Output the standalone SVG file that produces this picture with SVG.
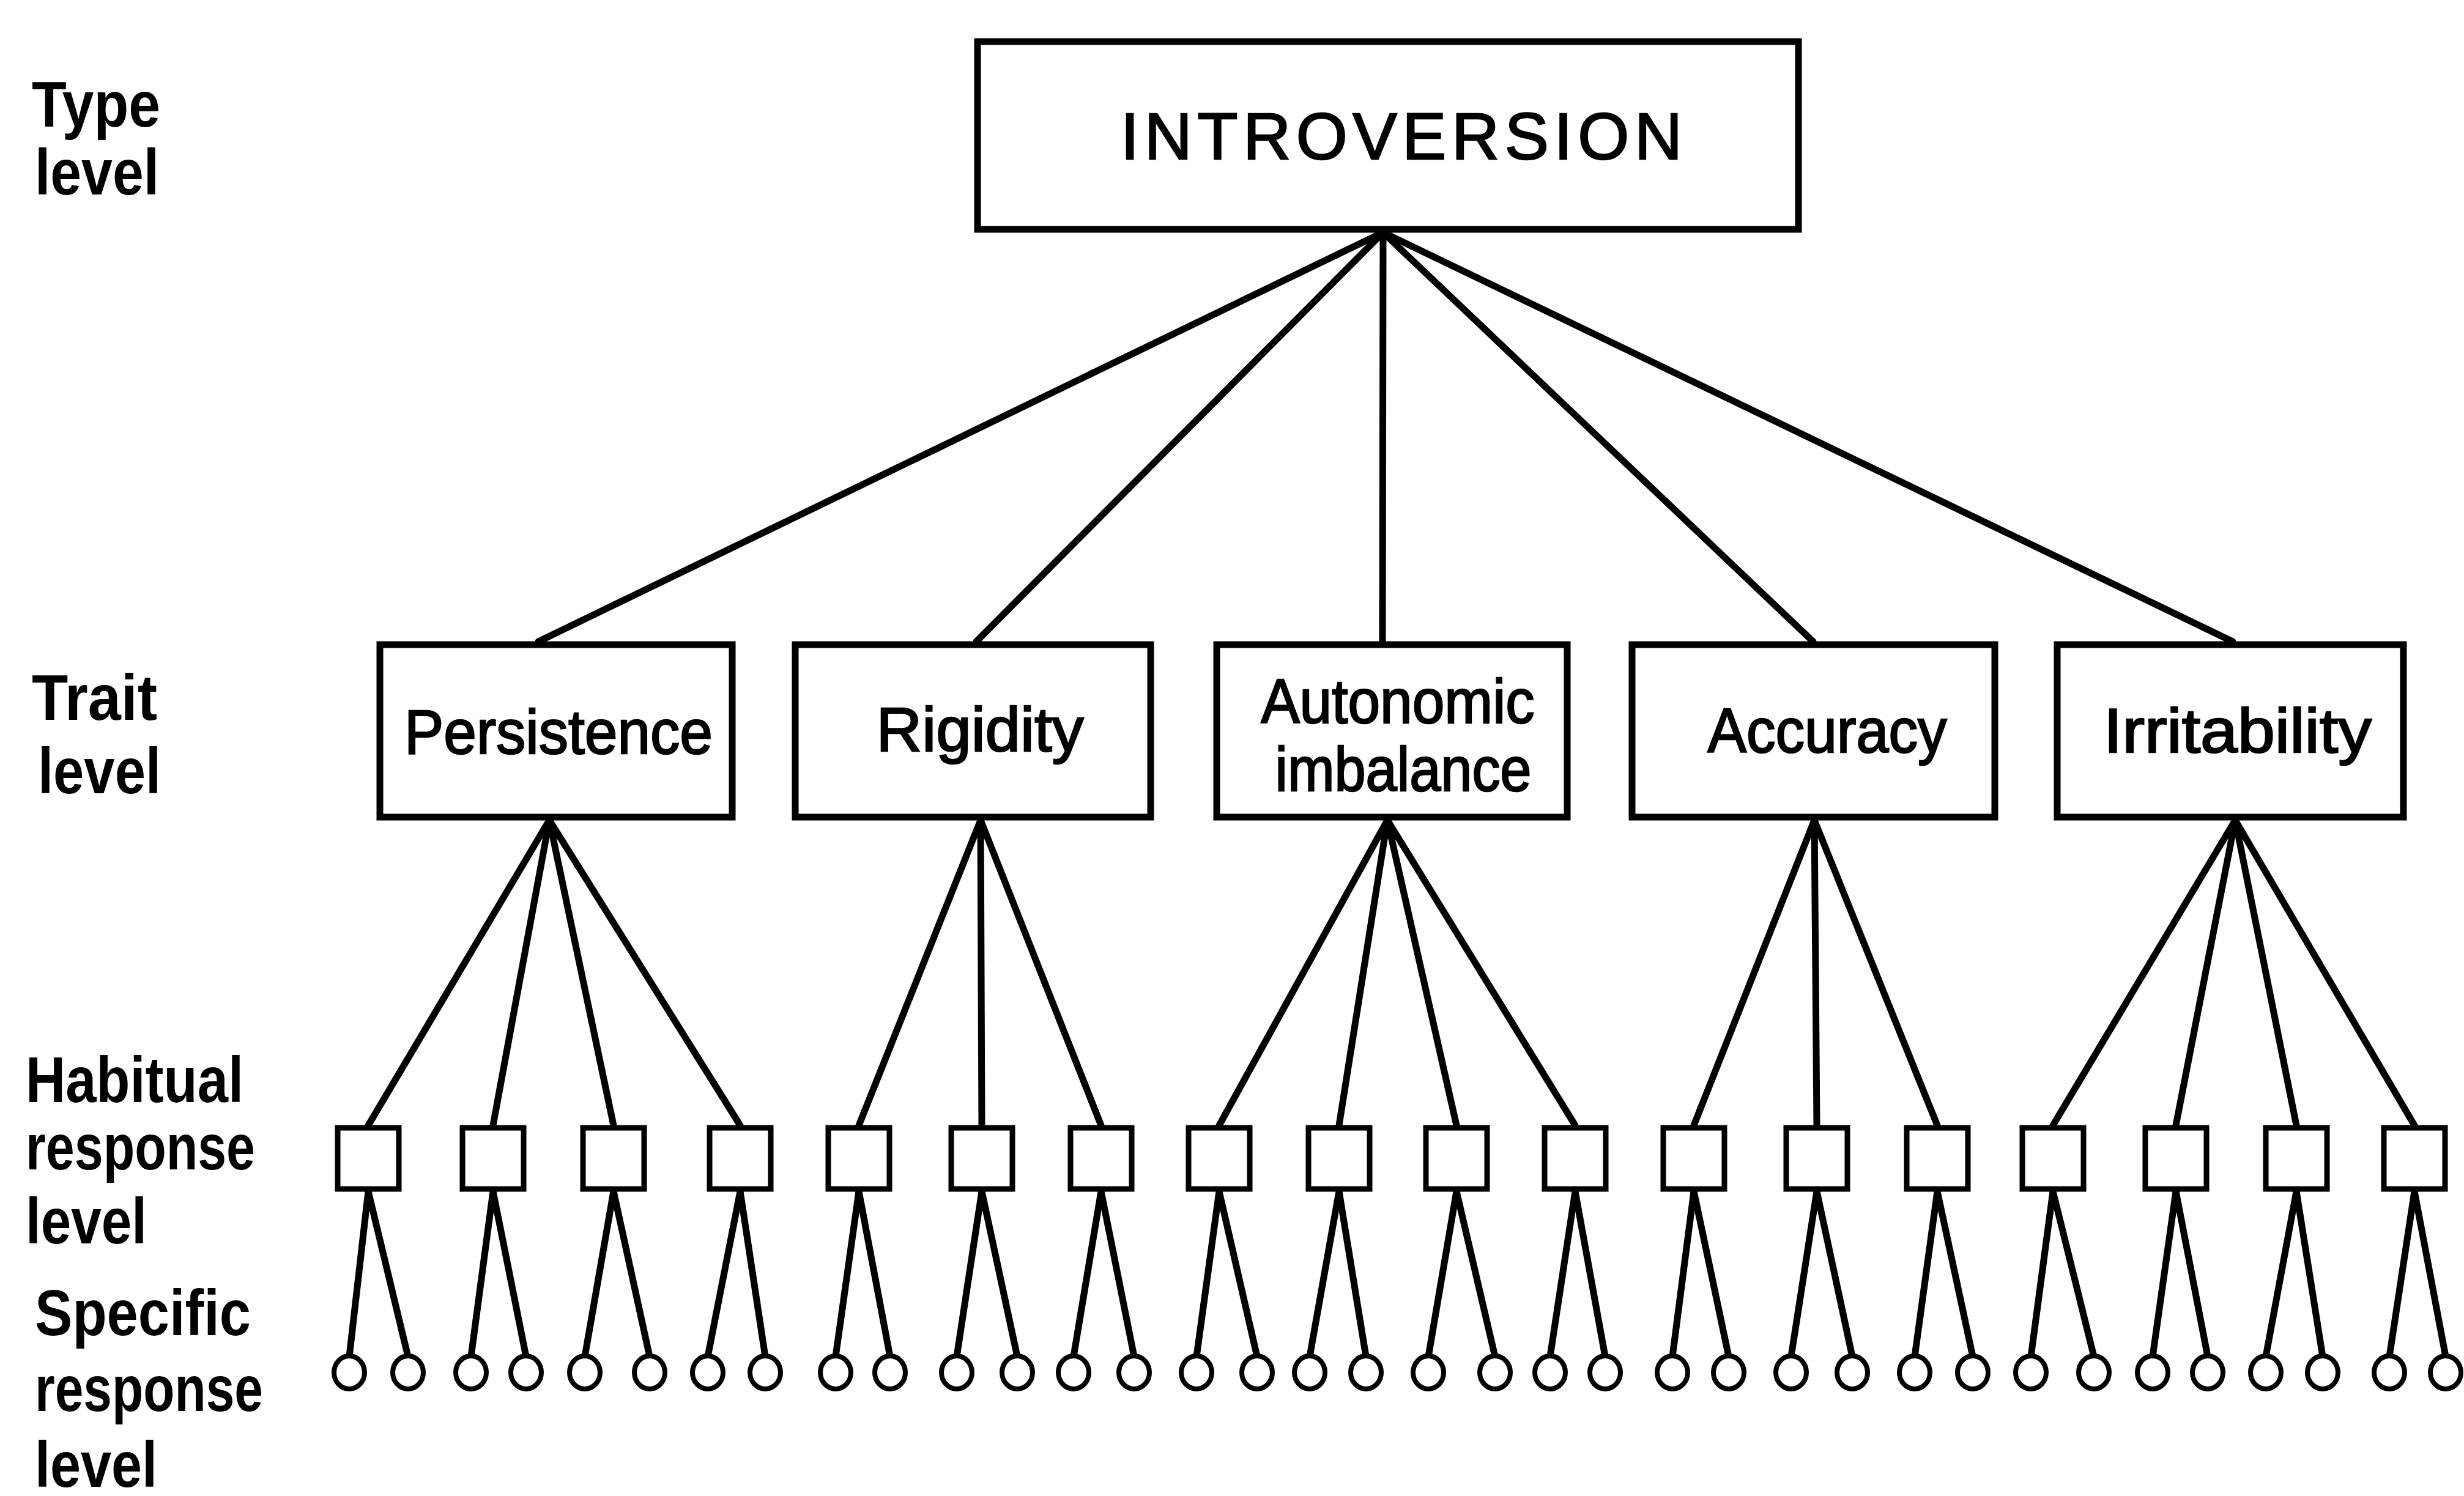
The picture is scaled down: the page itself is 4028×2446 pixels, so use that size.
<svg xmlns="http://www.w3.org/2000/svg" width="4028" height="2446" viewBox="0 0 4028 2446">
<style>
.bg{fill:#fff}
.box{fill:#fff;stroke:#000;stroke-width:11}
.hbox{fill:#fff;stroke:#000;stroke-width:9}
.circ{fill:#fff;stroke:#000;stroke-width:8}
.edge{stroke:#000;stroke-width:11;fill:none;stroke-linecap:round}
.lbl{font-family:"Liberation Sans",Arial,sans-serif;font-weight:bold;font-size:106px;fill:#000}
.nt{font-family:"Liberation Sans",Arial,sans-serif;font-size:102px;fill:#000;stroke:#000;stroke-width:2.5;text-anchor:middle}
.big{font-family:"Liberation Sans",Arial,sans-serif;font-size:108px;fill:#000;stroke:#000;stroke-width:2.5}
</style>
<rect class="bg" x="0" y="0" width="4028" height="2446"/>
<g id="level-labels">
<text class="lbl" x="52" y="207" textLength="210" lengthAdjust="spacingAndGlyphs">Type</text>
<text class="lbl" x="57" y="318" textLength="203" lengthAdjust="spacingAndGlyphs">level</text>
<text class="lbl" x="52" y="1177" textLength="205" lengthAdjust="spacingAndGlyphs">Trait</text>
<text class="lbl" x="62" y="1297" textLength="201" lengthAdjust="spacingAndGlyphs">level</text>
<text class="lbl" x="42" y="1802" textLength="356" lengthAdjust="spacingAndGlyphs">Habitual</text>
<text class="lbl" x="42" y="1912" textLength="375" lengthAdjust="spacingAndGlyphs">response</text>
<text class="lbl" x="42" y="2033" textLength="198" lengthAdjust="spacingAndGlyphs">level</text>
<text class="lbl" x="57" y="2183" textLength="353" lengthAdjust="spacingAndGlyphs">Specific</text>
<text class="lbl" x="57" y="2307" textLength="373" lengthAdjust="spacingAndGlyphs">response</text>
<text class="lbl" x="57" y="2431" textLength="200" lengthAdjust="spacingAndGlyphs">level</text>
</g>
<g id="connectors">
<line class="edge" x1="2261" y1="380" x2="880" y2="1049"/>
<line class="edge" x1="2261" y1="380" x2="1596" y2="1049"/>
<line class="edge" x1="2261" y1="380" x2="2260" y2="1049"/>
<line class="edge" x1="2261" y1="380" x2="2964" y2="1049"/>
<line class="edge" x1="2261" y1="380" x2="3650" y2="1049"/>
<line class="edge" x1="898" y1="1341" x2="602" y2="1840"/>
<line class="edge" x1="898" y1="1341" x2="806" y2="1840"/>
<line class="edge" x1="898" y1="1341" x2="1003" y2="1840"/>
<line class="edge" x1="898" y1="1341" x2="1210" y2="1840"/>
<line class="edge" x1="1603" y1="1341" x2="1404" y2="1840"/>
<line class="edge" x1="1603" y1="1341" x2="1605" y2="1840"/>
<line class="edge" x1="1603" y1="1341" x2="1800" y2="1840"/>
<line class="edge" x1="2268" y1="1341" x2="1993" y2="1840"/>
<line class="edge" x1="2268" y1="1341" x2="2189" y2="1840"/>
<line class="edge" x1="2268" y1="1341" x2="2381" y2="1840"/>
<line class="edge" x1="2268" y1="1341" x2="2575" y2="1840"/>
<line class="edge" x1="2966" y1="1341" x2="2769" y2="1840"/>
<line class="edge" x1="2966" y1="1341" x2="2970" y2="1840"/>
<line class="edge" x1="2966" y1="1341" x2="3167" y2="1840"/>
<line class="edge" x1="3654" y1="1341" x2="3356" y2="1840"/>
<line class="edge" x1="3654" y1="1341" x2="3557" y2="1840"/>
<line class="edge" x1="3654" y1="1341" x2="3754" y2="1840"/>
<line class="edge" x1="3654" y1="1341" x2="3947" y2="1840"/>
<line class="edge" x1="602" y1="1948" x2="571" y2="2218"/>
<line class="edge" x1="602" y1="1948" x2="667" y2="2218"/>
<line class="edge" x1="806" y1="1948" x2="770" y2="2218"/>
<line class="edge" x1="806" y1="1948" x2="860" y2="2218"/>
<line class="edge" x1="1003" y1="1948" x2="956" y2="2218"/>
<line class="edge" x1="1003" y1="1948" x2="1062" y2="2218"/>
<line class="edge" x1="1210" y1="1948" x2="1157" y2="2218"/>
<line class="edge" x1="1210" y1="1948" x2="1251" y2="2218"/>
<line class="edge" x1="1404" y1="1948" x2="1366" y2="2218"/>
<line class="edge" x1="1404" y1="1948" x2="1455" y2="2218"/>
<line class="edge" x1="1605" y1="1948" x2="1564" y2="2218"/>
<line class="edge" x1="1605" y1="1948" x2="1663" y2="2218"/>
<line class="edge" x1="1800" y1="1948" x2="1755" y2="2218"/>
<line class="edge" x1="1800" y1="1948" x2="1854" y2="2218"/>
<line class="edge" x1="1993" y1="1948" x2="1956" y2="2218"/>
<line class="edge" x1="1993" y1="1948" x2="2055" y2="2218"/>
<line class="edge" x1="2189" y1="1948" x2="2141" y2="2218"/>
<line class="edge" x1="2189" y1="1948" x2="2233" y2="2218"/>
<line class="edge" x1="2381" y1="1948" x2="2335" y2="2218"/>
<line class="edge" x1="2381" y1="1948" x2="2444" y2="2218"/>
<line class="edge" x1="2575" y1="1948" x2="2534" y2="2218"/>
<line class="edge" x1="2575" y1="1948" x2="2624" y2="2218"/>
<line class="edge" x1="2769" y1="1948" x2="2734" y2="2218"/>
<line class="edge" x1="2769" y1="1948" x2="2826" y2="2218"/>
<line class="edge" x1="2970" y1="1948" x2="2928" y2="2218"/>
<line class="edge" x1="2970" y1="1948" x2="3028" y2="2218"/>
<line class="edge" x1="3167" y1="1948" x2="3130" y2="2218"/>
<line class="edge" x1="3167" y1="1948" x2="3225" y2="2218"/>
<line class="edge" x1="3356" y1="1948" x2="3320" y2="2218"/>
<line class="edge" x1="3356" y1="1948" x2="3423" y2="2218"/>
<line class="edge" x1="3557" y1="1948" x2="3519" y2="2218"/>
<line class="edge" x1="3557" y1="1948" x2="3609" y2="2218"/>
<line class="edge" x1="3754" y1="1948" x2="3704" y2="2218"/>
<line class="edge" x1="3754" y1="1948" x2="3797" y2="2218"/>
<line class="edge" x1="3947" y1="1948" x2="3906" y2="2218"/>
<line class="edge" x1="3947" y1="1948" x2="3998" y2="2218"/>
</g>
<g id="introversion">
<rect class="box" x="1598" y="68" width="1342" height="307"/>
<text class="big" x="1832" y="260" textLength="918" lengthAdjust="spacing">INTROVERSION</text>
</g>
<g id="persistence">
<rect class="box" x="621" y="1054" width="576" height="282"/>
<text class="nt" x="913" y="1232" textLength="504" lengthAdjust="spacingAndGlyphs">Persistence</text>
</g>
<g id="rigidity">
<rect class="box" x="1300" y="1054" width="581" height="282"/>
<text class="nt" x="1602" y="1228" textLength="339" lengthAdjust="spacingAndGlyphs">Rigidity</text>
</g>
<g id="autonomic-imbalance">
<rect class="box" x="1989" y="1054" width="573" height="282"/>
<text class="nt" x="2285" y="1182" textLength="447" lengthAdjust="spacingAndGlyphs">Autonomic</text>
<text class="nt" x="2294" y="1293" textLength="419" lengthAdjust="spacingAndGlyphs">imbalance</text>
</g>
<g id="accuracy">
<rect class="box" x="2668" y="1054" width="593" height="282"/>
<text class="nt" x="2987" y="1230" textLength="391" lengthAdjust="spacingAndGlyphs">Accuracy</text>
</g>
<g id="irritability">
<rect class="box" x="3363" y="1054" width="566" height="282"/>
<text class="nt" x="3658" y="1230" textLength="438" lengthAdjust="spacingAndGlyphs">Irritability</text>
</g>
<g id="habitual-responses">
<g id="h1"><rect class="hbox" x="552" y="1844" width="100" height="100"/></g>
<g id="h2"><rect class="hbox" x="756" y="1844" width="100" height="100"/></g>
<g id="h3"><rect class="hbox" x="953" y="1844" width="100" height="100"/></g>
<g id="h4"><rect class="hbox" x="1160" y="1844" width="100" height="100"/></g>
<g id="h5"><rect class="hbox" x="1354" y="1844" width="100" height="100"/></g>
<g id="h6"><rect class="hbox" x="1555" y="1844" width="100" height="100"/></g>
<g id="h7"><rect class="hbox" x="1750" y="1844" width="100" height="100"/></g>
<g id="h8"><rect class="hbox" x="1943" y="1844" width="100" height="100"/></g>
<g id="h9"><rect class="hbox" x="2139" y="1844" width="100" height="100"/></g>
<g id="h10"><rect class="hbox" x="2331" y="1844" width="100" height="100"/></g>
<g id="h11"><rect class="hbox" x="2525" y="1844" width="100" height="100"/></g>
<g id="h12"><rect class="hbox" x="2719" y="1844" width="100" height="100"/></g>
<g id="h13"><rect class="hbox" x="2920" y="1844" width="100" height="100"/></g>
<g id="h14"><rect class="hbox" x="3117" y="1844" width="100" height="100"/></g>
<g id="h15"><rect class="hbox" x="3306" y="1844" width="100" height="100"/></g>
<g id="h16"><rect class="hbox" x="3507" y="1844" width="100" height="100"/></g>
<g id="h17"><rect class="hbox" x="3704" y="1844" width="100" height="100"/></g>
<g id="h18"><rect class="hbox" x="3897" y="1844" width="100" height="100"/></g>
</g>
<g id="specific-responses">
<g id="s1"><ellipse class="circ" cx="571" cy="2244" rx="25" ry="27"/></g>
<g id="s2"><ellipse class="circ" cx="667" cy="2244" rx="25" ry="27"/></g>
<g id="s3"><ellipse class="circ" cx="770" cy="2244" rx="25" ry="27"/></g>
<g id="s4"><ellipse class="circ" cx="860" cy="2244" rx="25" ry="27"/></g>
<g id="s5"><ellipse class="circ" cx="956" cy="2244" rx="25" ry="27"/></g>
<g id="s6"><ellipse class="circ" cx="1062" cy="2244" rx="25" ry="27"/></g>
<g id="s7"><ellipse class="circ" cx="1157" cy="2244" rx="25" ry="27"/></g>
<g id="s8"><ellipse class="circ" cx="1251" cy="2244" rx="25" ry="27"/></g>
<g id="s9"><ellipse class="circ" cx="1366" cy="2244" rx="25" ry="27"/></g>
<g id="s10"><ellipse class="circ" cx="1455" cy="2244" rx="25" ry="27"/></g>
<g id="s11"><ellipse class="circ" cx="1564" cy="2244" rx="25" ry="27"/></g>
<g id="s12"><ellipse class="circ" cx="1663" cy="2244" rx="25" ry="27"/></g>
<g id="s13"><ellipse class="circ" cx="1755" cy="2244" rx="25" ry="27"/></g>
<g id="s14"><ellipse class="circ" cx="1854" cy="2244" rx="25" ry="27"/></g>
<g id="s15"><ellipse class="circ" cx="1956" cy="2244" rx="25" ry="27"/></g>
<g id="s16"><ellipse class="circ" cx="2055" cy="2244" rx="25" ry="27"/></g>
<g id="s17"><ellipse class="circ" cx="2141" cy="2244" rx="25" ry="27"/></g>
<g id="s18"><ellipse class="circ" cx="2233" cy="2244" rx="25" ry="27"/></g>
<g id="s19"><ellipse class="circ" cx="2335" cy="2244" rx="25" ry="27"/></g>
<g id="s20"><ellipse class="circ" cx="2444" cy="2244" rx="25" ry="27"/></g>
<g id="s21"><ellipse class="circ" cx="2534" cy="2244" rx="25" ry="27"/></g>
<g id="s22"><ellipse class="circ" cx="2624" cy="2244" rx="25" ry="27"/></g>
<g id="s23"><ellipse class="circ" cx="2734" cy="2244" rx="25" ry="27"/></g>
<g id="s24"><ellipse class="circ" cx="2826" cy="2244" rx="25" ry="27"/></g>
<g id="s25"><ellipse class="circ" cx="2928" cy="2244" rx="25" ry="27"/></g>
<g id="s26"><ellipse class="circ" cx="3028" cy="2244" rx="25" ry="27"/></g>
<g id="s27"><ellipse class="circ" cx="3130" cy="2244" rx="25" ry="27"/></g>
<g id="s28"><ellipse class="circ" cx="3225" cy="2244" rx="25" ry="27"/></g>
<g id="s29"><ellipse class="circ" cx="3320" cy="2244" rx="25" ry="27"/></g>
<g id="s30"><ellipse class="circ" cx="3423" cy="2244" rx="25" ry="27"/></g>
<g id="s31"><ellipse class="circ" cx="3519" cy="2244" rx="25" ry="27"/></g>
<g id="s32"><ellipse class="circ" cx="3609" cy="2244" rx="25" ry="27"/></g>
<g id="s33"><ellipse class="circ" cx="3704" cy="2244" rx="25" ry="27"/></g>
<g id="s34"><ellipse class="circ" cx="3797" cy="2244" rx="25" ry="27"/></g>
<g id="s35"><ellipse class="circ" cx="3906" cy="2244" rx="25" ry="27"/></g>
<g id="s36"><ellipse class="circ" cx="3998" cy="2244" rx="25" ry="27"/></g>
</g>
</svg>
